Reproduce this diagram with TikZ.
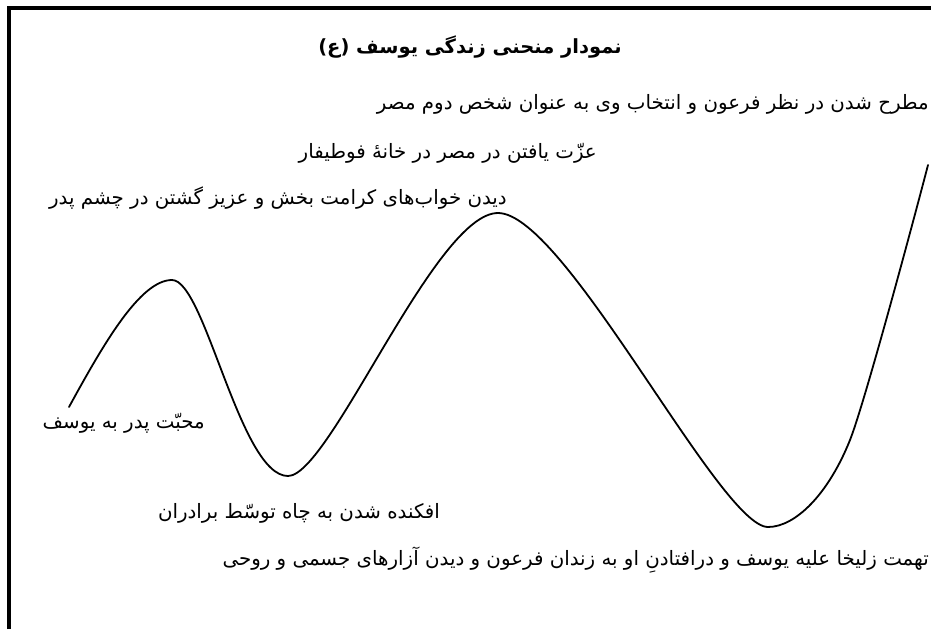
\documentclass[tikz,border=0pt]{standalone}
\usepackage{fontspec}
\newfontfamily\arabicfont[Script=Arabic]{DejaVu Sans}
\TeXXeTstate=1
\begin{document}
\begin{tikzpicture}[x=1pt,y=-1pt,
  lbl/.style={inner sep=0pt,font=\arabicfont\fontsize{19.8}{23}\selectfont},
  ttl/.style={inner sep=0pt,font=\arabicfont\bfseries\fontsize{19.5}{24}\selectfont},
  curve/.style={line width=1.8pt,line join=round,line cap=round}]
\useasboundingbox (0,0) rectangle (931,629);
\draw[line width=4pt] (9,629) -- (9,8) -- (931,8);
\node[ttl] (title) at (470,47) {\beginR نمودار منحنی زندگی یوسف (ع)\endR};
\node[lbl,anchor=east] (egypt2) at (929,104) {\beginR مطرح شدن در نظر فرعون و انتخاب وی به عنوان شخص دوم مصر\endR};
\node[lbl,anchor=east] (potiphar) at (597,153) {\beginR عزّت یافتن در مصر در خانهٔ فوطیفار\endR};
\node[lbl,anchor=east] (dreams) at (507,198) {\beginR دیدن خواب‌های کرامت بخش و عزیز گشتن در چشم پدر\endR};
\node[lbl,anchor=east] (love) at (205,423) {\beginR محبّت پدر به یوسف\endR};
\node[lbl] (well) at (299,513) {\beginR افکنده شدن به چاه توسّط برادران\endR};
\node[lbl,anchor=east] (prison) at (929,560) {\beginR تهمت زلیخا علیه یوسف و درافتادنِ او به زندان فرعون و دیدن آزارهای جسمی و روحی\endR};
\coordinate (s0) at (69,407);
\coordinate (p1) at (172,280);
\coordinate (v1) at (288,476);
\coordinate (p2) at (498,213);
\coordinate (v2) at (768,527);
\coordinate (q) at (850,440);
\coordinate (e) at (928,165);
\draw[curve] (s0) .. controls (103,345) and (140,280) .. (p1)
  .. controls (205,280) and (240,476) .. (v1)
  .. controls (330,476) and (435,213) .. (p2)
  .. controls (565,213) and (720,527) .. (v2)
  .. controls (795,527) and (828,495) .. (q)
  .. controls (865,402) and (915,215) .. (e);
\end{tikzpicture}
\end{document}
